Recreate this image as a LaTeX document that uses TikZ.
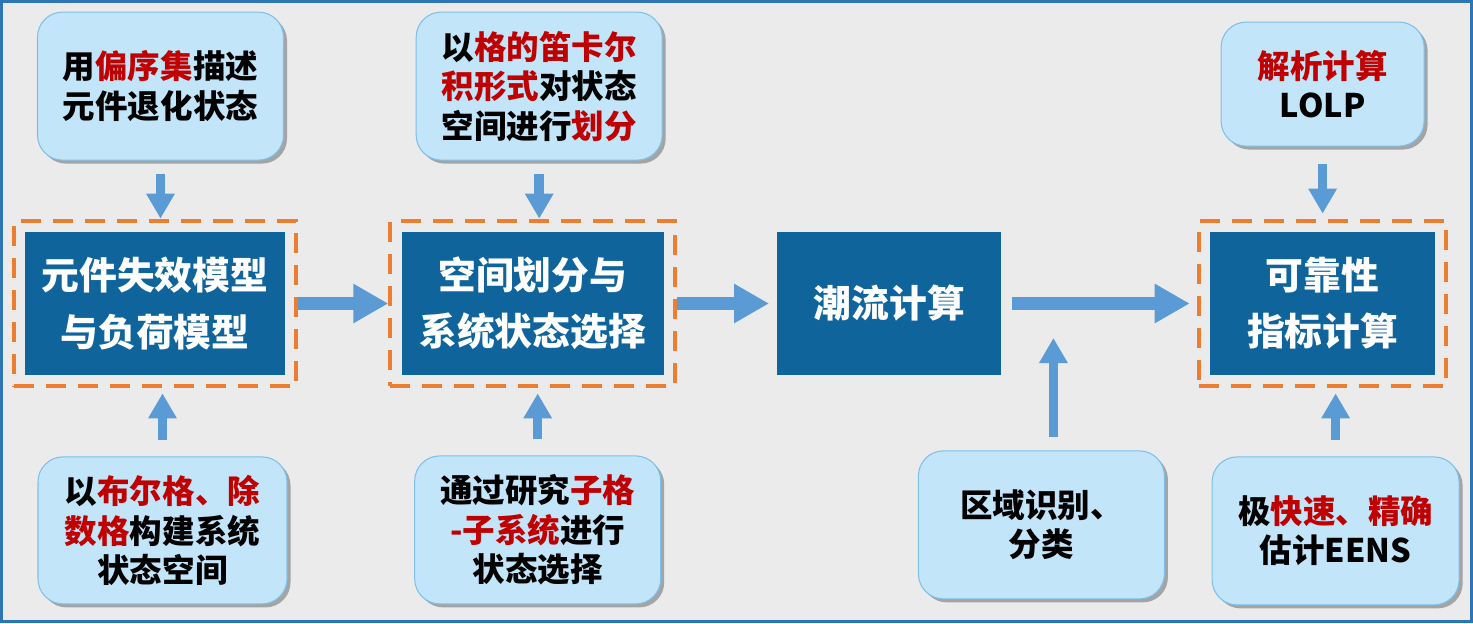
\documentclass[tikz,border=0pt]{standalone}
\usepackage{fontspec}
\setmainfont{Noto Sans CJK SC}
\usepackage{xcolor}
\usetikzlibrary{arrows.meta,positioning,fit,shadows}

\definecolor{darkblue}{RGB}{14,100,155}
\definecolor{lightfill}{RGB}{194,229,249}
\definecolor{lightedge}{RGB}{125,192,235}
\definecolor{dashorange}{RGB}{237,125,49}
\definecolor{arrowblue}{RGB}{91,155,213}
\definecolor{keyred}{RGB}{192,0,0}
\definecolor{bggray}{RGB}{235,235,235}
\definecolor{borderblue}{RGB}{46,117,182}

\newcommand{\hlt}[1]{\textcolor{keyred}{#1}}

\begin{document}
\begin{tikzpicture}[
  darkbox/.style={fill=darkblue, text=white, font=\bfseries\fontsize{21.5}{32}\selectfont,
    align=center, minimum height=2.86cm, inner sep=0pt},
  lightbox/.style={draw=lightedge, line width=0.6pt, fill=lightfill, rounded corners=0.5cm,
    font=\bfseries\fontsize{18.5}{22.5}\selectfont, align=center,
    minimum width=4.92cm, minimum height=2.96cm, inner sep=0pt,
    drop shadow={shadow xshift=0.07cm, shadow yshift=-0.07cm, opacity=0.3, fill=black}},
  dashframe/.style={draw=dashorange, line width=2.3pt, dash pattern=on 0.4cm off 0.24cm,
    fit=#1, inner sep=0.22cm},
  bigarrow/.style={draw=arrowblue, line width=0.25cm, -{Triangle[length=0.7cm, width=0.74cm]}},
  smallarrow/.style={draw=arrowblue, line width=0.19cm, -{Triangle[length=0.5cm, width=0.54cm]}}
]
\useasboundingbox (0,0) rectangle (29.46,-12.46);
% Background
\fill[bggray] (0,0) rectangle (29.46,-12.46);
\draw[borderblue, line width=1.5pt] (0.03,-0.03) rectangle (29.43,-12.43);

% Main steps
\node[darkbox, minimum width=5.2cm] (model) at (3.10,-6.07) {元件失效模型\\与负荷模型};
\node[darkbox, minimum width=5.24cm, right=2.32cm of model] (split) {空间划分与\\系统状态选择};
\node[darkbox, minimum width=4.48cm, right=2.26cm of split] (flow) {潮流计算};
\node[darkbox, minimum width=4.5cm, right=4.16cm of flow] (index) {可靠性\\指标计算};

% Dashed frames
\node[dashframe=(model)] (modelframe) {};
\node[dashframe=(split)] (splitframe) {};
\node[dashframe=(index)] (indexframe) {};

% Upper notes
\node[lightbox, above=1.16cm of modelframe, xshift=0.11cm] (poset)
{用\hlt{偏序集}描述\\元件退化状态};
\node[lightbox, above=1.16cm of splitframe, xshift=0.13cm] (lattice)
{以\hlt{格的笛卡尔}\\\hlt{积形式}对状态\\空间进行\hlt{划分}};
\node[lightbox, minimum width=4.06cm, minimum height=2.48cm, above=1.44cm of indexframe] (lolp)
{\hlt{解析计算}\\LOLP};

% Lower notes
\node[lightbox, minimum width=4.98cm, minimum height=2.94cm, below=1.36cm of modelframe, xshift=0.15cm] (boolean)
{以\hlt{布尔格、除}\\\hlt{数格}构建系统\\状态空间};
\node[lightbox, below=1.34cm of splitframe, xshift=0.1cm] (sublattice)
{通过研究\hlt{子格}\\\hlt{-子系统}进行\\状态选择};
\node[lightbox, below=1.5cm of flow, xshift=3.04cm] (region)
{区域识别、\\分类};
\node[lightbox, minimum width=4.94cm, below=1.36cm of indexframe, xshift=0.26cm] (eens)
{极\hlt{快速、精确}\\估计EENS};

% Arrows
\draw[bigarrow] (modelframe) -- (splitframe);
\draw[bigarrow, shorten >=0.16cm] (splitframe) -- (flow);
\draw[bigarrow, shorten <=0.2cm, shorten >=0.14cm] (flow) -- (indexframe);
\draw[smallarrow, shorten <=0.26cm] (poset.south) -- (poset.south |- modelframe.north);
\draw[smallarrow, shorten <=0.26cm] (lattice.south) -- (lattice.south |- splitframe.north);
\draw[smallarrow, shorten <=0.34cm, shorten >=0.1cm] (lolp.south) -- (lolp.south |- indexframe.north);
\draw[smallarrow, shorten <=0.32cm, shorten >=0.1cm] (boolean.north) -- (boolean.north |- modelframe.south);
\draw[smallarrow, shorten <=0.32cm, shorten >=0.1cm] (sublattice.north) -- (sublattice.north |- splitframe.south);
\draw[smallarrow, shorten <=0.26cm, shorten >=0.69cm] ([xshift=0.24cm]region.north) -- ([xshift=0.24cm]region.north |- flow.east);
\draw[smallarrow, shorten <=0.32cm, shorten >=0.1cm] (eens.north) -- (eens.north |- indexframe.south);
\end{tikzpicture}
\end{document}
